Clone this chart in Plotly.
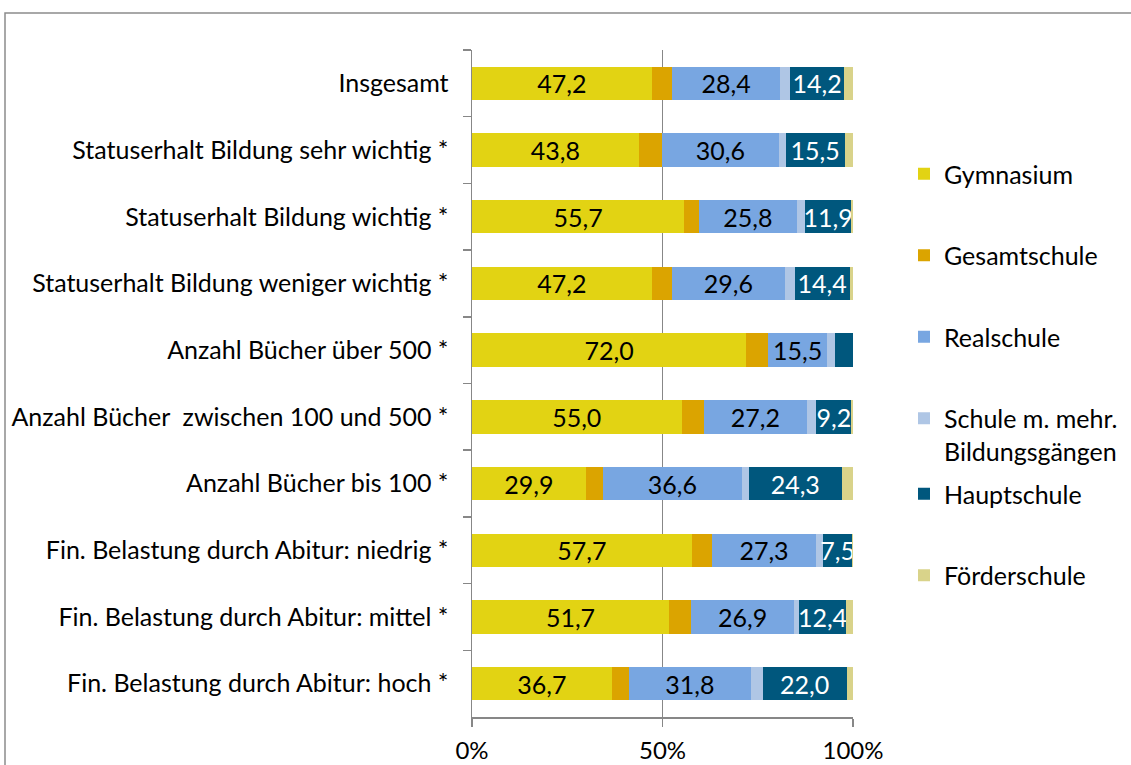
import plotly.graph_objects as go

categories = [
    "Insgesamt",
    "Statuserhalt Bildung sehr wichtig *",
    "Statuserhalt Bildung wichtig *",
    "Statuserhalt Bildung weniger wichtig *",
    "Anzahl Bücher über 500 *",
    "Anzahl Bücher\u00a0 zwischen 100 und 500 *",
    "Anzahl Bücher bis 100 *",
    "Fin. Belastung durch Abitur: niedrig *",
    "Fin. Belastung durch Abitur: mittel *",
    "Fin. Belastung durch Abitur: hoch *",
]

gymnasium = [47.2, 43.8, 55.7, 47.2, 72.0, 55.0, 29.9, 57.7, 51.7, 36.7]
gesamtschule = [5.3, 6.1, 3.8, 5.3, 5.7, 5.8, 4.4, 5.3, 5.9, 4.6]
realschule = [28.4, 30.6, 25.8, 29.6, 15.5, 27.2, 36.6, 27.3, 26.9, 31.8]
mehr_bildungsgaenge = [2.6, 1.8, 2.2, 2.6, 2.1, 2.4, 1.8, 1.9, 1.3, 3.2]
hauptschule = [14.2, 15.5, 11.9, 14.4, 4.7, 9.2, 24.3, 7.5, 12.4, 22.0]
foerderschule = [2.3, 2.2, 0.6, 0.9, 0.0, 0.4, 3.0, 0.3, 1.8, 1.7]

x_ticks = [0, 50, 100]
x_ticktext = ["0%", "50%", "100%"]

FONT = "Lato"
FS = 25


def de(v, min_val=5):
    # German decimal comma, hide labels of tiny segments
    return f"{v:.1f}".replace(".", ",") if v >= min_val else ""


# name, values, colour, labelled?, label colour, legend
series = [
    ("Gymnasium", gymnasium, "#E2D313", True, "black", "legend"),
    ("Gesamtschule", gesamtschule, "#DBA400", False, None, "legend"),
    ("Realschule", realschule, "#78A6E1", True, "black", "legend"),
    ("Schule m. mehr.<br>Bildungsgängen", mehr_bildungsgaenge, "#AFC6E5", False, None, "legend"),
    ("Hauptschule", hauptschule, "#00577D", True, "white", "legend2"),
    ("Förderschule", foerderschule, "#D9D38A", False, None, "legend2"),
]

fig = go.Figure()
for i, (name, vals, color, labelled, tcolor, leg) in enumerate(series):
    fig.add_trace(go.Bar(
        y=categories, x=vals, name=name, orientation="h",
        marker=dict(color=color, line=dict(width=0)),
        text=[de(v) for v in vals] if labelled else None,
        textposition="inside" if labelled else "none",
        insidetextanchor="middle",
        constraintext="none",
        textangle=0,
        textfont=dict(family=FONT, size=FS, color=tcolor or "black"),
        legendgroup=str(i),
        legend=leg,
        hoverinfo="skip",
    ))

# px -> paper helpers for the outer chart frame and legend
L, R, T, B = 472, 853, 50, 717
def px_x(p):
    return (p - L) / (R - L)
def px_y(p):
    return (B - p) / (B - T)

legend_style = dict(
    xanchor="left", yanchor="top",
    traceorder="grouped", tracegroupgap=46, valign="top",
    font=dict(family=FONT, size=FS),
)

fig.update_layout(
    barmode="stack",
    bargap=0.5,
    width=1131, height=765,
    margin=dict(l=L, r=1131 - R, t=T, b=765 - B, autoexpand=False),
    paper_bgcolor="white", plot_bgcolor="white",
    font=dict(family=FONT, size=FS, color="black"),
    showlegend=True,
    legend=dict(x=px_x(904), y=px_y(151), **legend_style),
    legend2=dict(x=px_x(904), y=px_y(471), **legend_style),
    xaxis=dict(
        range=[0, 100], tickvals=x_ticks, ticktext=x_ticktext,
        tickfont=dict(size=24),
        showgrid=True, gridcolor="#878787", gridwidth=1.5,
        showline=True, linecolor="#878787", linewidth=1.5,
        ticks="outside", ticklen=8, tickcolor="#878787", tickwidth=1.5,
        ticklabelstandoff=4, zeroline=False, fixedrange=True,
        automargin=False,
    ),
    yaxis=dict(
        autorange="reversed", showline=True, linecolor="#878787", linewidth=1.5,
        ticks="outside", tickson="boundaries", ticklen=8,
        tickcolor="#878787", tickwidth=1.5, ticklabelstandoff=17,
        showgrid=False, fixedrange=True, automargin=False,
    ),
    shapes=[dict(
        type="rect", xref="paper", yref="paper",
        x0=px_x(5), x1=px_x(1200), y0=px_y(800), y1=px_y(13),
        line=dict(color="#8C8C8C", width=1.5), fillcolor="rgba(0,0,0,0)",
        layer="below",
    )],
)

fig.write_html(
    "out.html",
    config={"displayModeBar": False, "staticPlot": True},
    post_script="document.body.style.margin='0';",
)
